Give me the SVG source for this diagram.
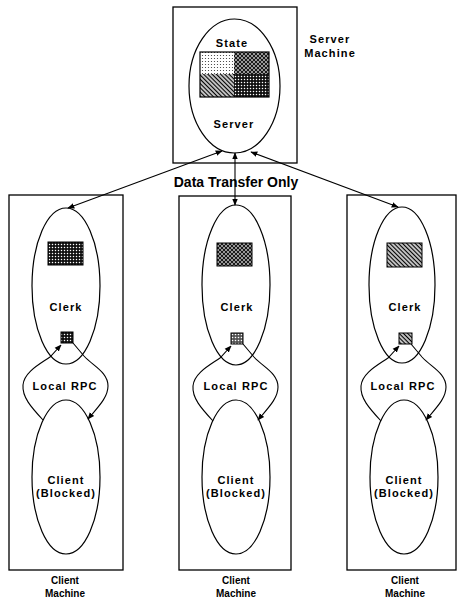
<svg xmlns="http://www.w3.org/2000/svg" width="457" height="602" viewBox="0 0 457 602">
<style>
.box{fill:none;stroke:#000;stroke-width:1.3}
.ell{fill:none;stroke:#000;stroke-width:1.2}
.pr{stroke:#000;stroke-width:1}
.t{font-family:"Liberation Sans",Arial,sans-serif;font-weight:bold;font-size:11px;letter-spacing:1.1px;text-anchor:middle;fill:#000}
.lab{font-family:"Liberation Sans",Arial,sans-serif;font-weight:bold;font-size:10px;text-anchor:middle;fill:#000}
.big{font-family:"Liberation Sans",Arial,sans-serif;font-weight:bold;font-size:14px;text-anchor:middle;fill:#000}
.ln{fill:none;stroke:#000;stroke-width:1.1}
</style>
<defs>
<marker id="ah" viewBox="0 0 10 10" refX="9" refY="5" markerWidth="7" markerHeight="7" markerUnits="userSpaceOnUse" orient="auto-start-reverse"><path d="M0,1 L10,5 L0,9 Z" fill="#000"/></marker>
<pattern id="dotsLight" width="3" height="3" patternUnits="userSpaceOnUse"><rect width="3" height="3" fill="#fff"/><circle cx="1.5" cy="1.5" r="0.6" fill="#333"/></pattern>
<pattern id="darkDots" width="3" height="3" patternUnits="userSpaceOnUse"><rect width="3" height="3" fill="#111"/><circle cx="1.5" cy="1.5" r="0.75" fill="#fff"/></pattern>
<pattern id="cross" width="4" height="4" patternUnits="userSpaceOnUse"><rect width="4" height="4" fill="#1a1a1a"/><path d="M0,0 L4,4 M4,0 L0,4" stroke="#fff" stroke-width="0.55"/></pattern>
<pattern id="hatch" width="3" height="3" patternUnits="userSpaceOnUse" patternTransform="rotate(-45)"><rect width="3" height="3" fill="#fff"/><line x1="1.5" y1="0" x2="1.5" y2="3" stroke="#000" stroke-width="1.5"/></pattern>
<pattern id="midDots" width="3" height="3" patternUnits="userSpaceOnUse"><rect width="3" height="3" fill="#555"/><circle cx="1.5" cy="1.5" r="0.8" fill="#fff"/></pattern>
</defs>
<rect width="457" height="602" fill="#fff"/>

<g id="server-machine">
<rect class="box" x="173" y="7" width="124" height="156"/>
<text class="t" x="330" y="43" letter-spacing="0.6">Server</text>
<text class="t" x="330" y="57" letter-spacing="0.2">Machine</text>
</g>
<g id="server">
<ellipse class="ell" cx="234.5" cy="86" rx="45.5" ry="67"/>
<text class="t" x="232" y="47">State</text>
<rect x="200" y="52" width="34" height="22" fill="url(#dotsLight)"/>
<rect x="234" y="52" width="35" height="22" fill="url(#cross)"/>
<rect x="200" y="74" width="34" height="23" fill="url(#hatch)"/>
<rect x="234" y="74" width="35" height="23" fill="url(#darkDots)"/>
<rect x="200" y="52" width="69" height="45" fill="none" stroke="#000" stroke-width="1.2"/>
<text class="t" x="234" y="128">Server</text>
</g>

<g id="client-machine-1">
<rect class="box" x="9" y="195" width="114" height="375"/>
<text class="lab" x="65" y="584">Client</text>
<text class="lab" x="65" y="597">Machine</text>
</g>
<g id="clerk-1">
<ellipse class="ell" cx="66" cy="286" rx="34" ry="78"/>
<rect class="pr" x="48" y="242" width="35" height="23" fill="url(#darkDots)"/>
<text class="t" x="66" y="311">Clerk</text>
<rect class="pr" x="61" y="332" width="12" height="11" fill="url(#darkDots)"/>
</g>
<g id="client-1">
<ellipse class="ell" cx="66" cy="477" rx="34" ry="77"/>
<text class="t" x="66" y="484">Client</text>
<text class="t" x="66" y="497">(Blocked)</text>
</g>

<g id="client-machine-2">
<rect class="box" x="179" y="196" width="112" height="374"/>
<text class="lab" x="236" y="584">Client</text>
<text class="lab" x="236" y="597">Machine</text>
</g>
<g id="clerk-2">
<ellipse class="ell" cx="236" cy="285" rx="34" ry="80"/>
<rect class="pr" x="217" y="243" width="35" height="23" fill="url(#cross)"/>
<text class="t" x="237" y="311">Clerk</text>
<rect class="pr" x="231" y="333" width="12" height="11" fill="url(#midDots)"/>
</g>
<g id="client-2">
<ellipse class="ell" cx="236" cy="477" rx="34" ry="77"/>
<text class="t" x="236" y="484">Client</text>
<text class="t" x="236" y="497">(Blocked)</text>
</g>

<g id="client-machine-3">
<rect class="box" x="347" y="195" width="109" height="375"/>
<text class="lab" x="405" y="584">Client</text>
<text class="lab" x="405" y="597">Machine</text>
</g>
<g id="clerk-3">
<ellipse class="ell" cx="402" cy="285" rx="33" ry="78"/>
<rect class="pr" x="387" y="243" width="35" height="24" fill="url(#hatch)"/>
<text class="t" x="405" y="311">Clerk</text>
<rect class="pr" x="399" y="333" width="13" height="11" fill="url(#hatch)"/>
</g>
<g id="client-3">
<ellipse class="ell" cx="404" cy="477" rx="34" ry="77"/>
<text class="t" x="404" y="484">Client</text>
<text class="t" x="404" y="497">(Blocked)</text>
</g>

<g id="local-rpc-labels">
<text class="t" x="65" y="390">Local RPC</text>
<text class="t" x="236" y="390">Local RPC</text>
<text class="t" x="403" y="390">Local RPC</text>
</g>

<text class="big" x="236" y="187">Data Transfer Only</text>

<g id="connectors">
<line class="ln" x1="68" y1="208" x2="222" y2="151" marker-start="url(#ah)" marker-end="url(#ah)"/>
<line class="ln" x1="235" y1="205" x2="235" y2="153" marker-start="url(#ah)" marker-end="url(#ah)"/>
<line class="ln" x1="398" y1="207" x2="251" y2="152" marker-start="url(#ah)" marker-end="url(#ah)"/>
<g id="loop-1">
<path class="ln" d="M43,420 C31,407 22,397 23,385 C24,372 40,364 50,357 L61,345" marker-end="url(#ah)"/>
<path class="ln" d="M73,343 L84,356 C93,366 108,372 108,386 C108,398 97,408 88,419" marker-end="url(#ah)"/>
</g>
<g id="loop-2" transform="translate(170,1)">
<path class="ln" d="M43,420 C31,407 22,397 23,385 C24,372 40,364 50,357 L61,345" marker-end="url(#ah)"/>
<path class="ln" d="M73,343 L84,356 C93,366 108,372 108,386 C108,398 97,408 88,419" marker-end="url(#ah)"/>
</g>
<g id="loop-3" transform="translate(338,1)">
<path class="ln" d="M43,420 C31,407 22,397 23,385 C24,372 40,364 50,357 L61,345" marker-end="url(#ah)"/>
<path class="ln" d="M73,343 L84,356 C93,366 108,372 108,386 C108,398 97,408 88,419" marker-end="url(#ah)"/>
</g>
</g>
</svg>
